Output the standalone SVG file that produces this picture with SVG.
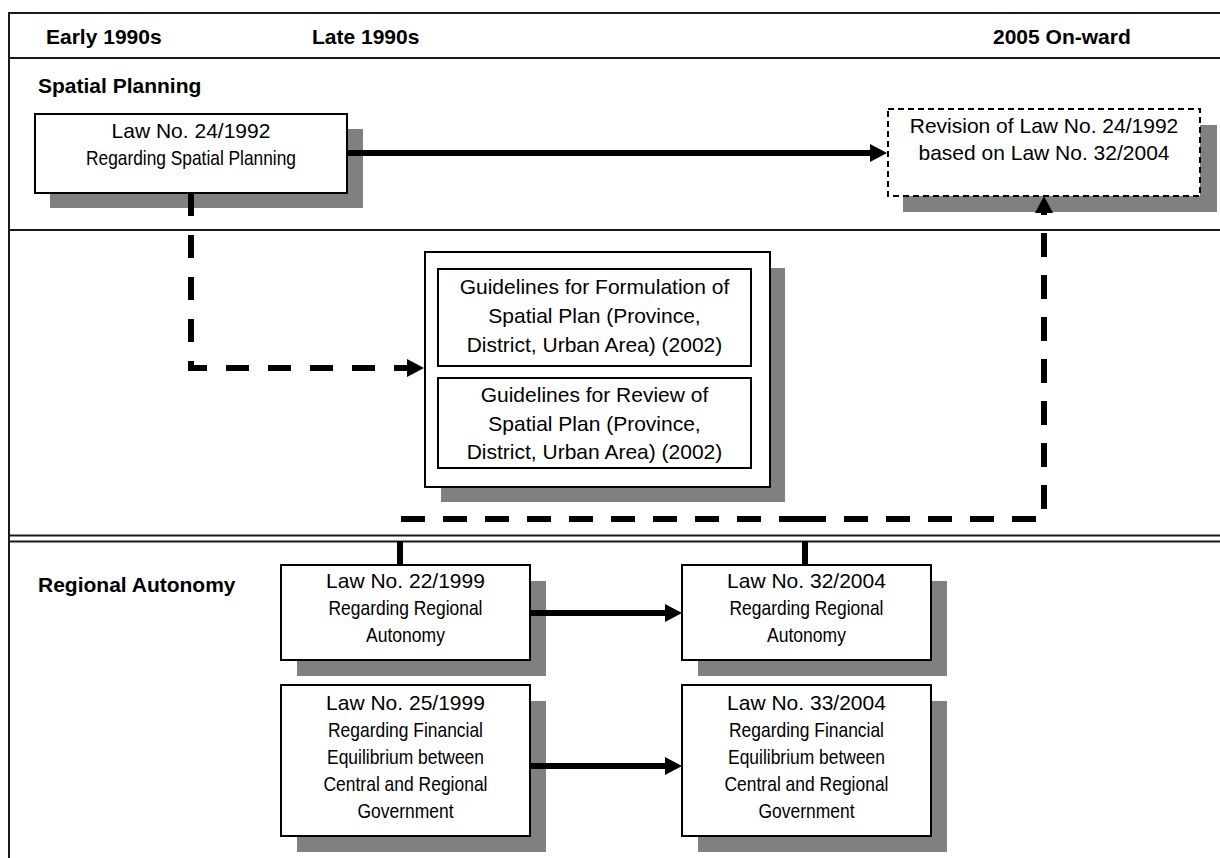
<svg xmlns="http://www.w3.org/2000/svg" width="1220" height="858" viewBox="0 0 1220 858">
  <style>
    .frame { stroke: #1a1a1a; stroke-width: 2; fill: none; }
    .shadow { fill: #808080; }
    .box { fill: #ffffff; stroke: #000000; stroke-width: 2; }
    .box-dashed { fill: #ffffff; stroke: #000000; stroke-width: 2; stroke-dasharray: 6 4; }
    .hdr { font-family: "Liberation Sans", Arial, sans-serif; font-weight: bold; font-size: 21px; fill: #000; }
    .t { font-family: "Liberation Sans", Arial, sans-serif; font-size: 21px; text-anchor: middle; fill: #000; }
    .n { font-family: "Liberation Sans Narrow", "Liberation Sans", Arial, sans-serif; font-size: 21px; text-anchor: middle; fill: #000; }
    .link { stroke: #000000; stroke-width: 6; fill: none; }
    .dash-a { stroke-dasharray: 23 19; }
    .dash-b { stroke-dasharray: 24 18; }
  </style>
  <defs>
    <marker id="arrow" markerUnits="userSpaceOnUse" markerWidth="18" markerHeight="18" refX="0" refY="9" orient="auto" overflow="visible">
      <path d="M0,0 L17,9 L0,18 Z" fill="#000000"/>
    </marker>
  </defs>

  <rect x="0" y="0" width="1220" height="858" fill="#ffffff"/>

  <!-- frame and band dividers -->
  <g id="frame">
    <path class="frame" d="M9 858 V13 H1220"/>
    <path class="frame" d="M9 58 H1220"/>
    <path class="frame" d="M9 230 H1220"/>
    <path class="frame" d="M9 535.5 H1220"/>
    <path class="frame" d="M9 541.5 H1220"/>
  </g>

  <!-- period headings and band titles -->
  <g id="labels">
    <text class="hdr" x="46" y="44">Early 1990s</text>
    <text class="hdr" x="312" y="44">Late 1990s</text>
    <text class="hdr" x="993" y="44">2005 On-ward</text>
    <text class="hdr" x="38" y="93">Spatial Planning</text>
    <text class="hdr" x="38" y="592">Regional Autonomy</text>
  </g>

  <g id="law-24-1992">
    <rect class="shadow" x="50" y="129" width="313" height="79"/>
    <rect class="box" x="35" y="114" width="312" height="79"/>
    <text class="t" x="191" y="138">Law No. 24/1992</text>
    <text class="n" x="191" y="165" textLength="210" lengthAdjust="spacingAndGlyphs">Regarding Spatial Planning</text>
  </g>

  <g id="revision-law-24-1992">
    <rect class="shadow" x="903" y="125" width="314" height="87"/>
    <rect class="box-dashed" x="888" y="109" width="312" height="87"/>
    <text class="t" x="1044" y="133">Revision of Law No. 24/1992</text>
    <text class="t" x="1044" y="160">based on Law No. 32/2004</text>
  </g>

  <g id="guidelines">
    <rect class="shadow" x="441" y="268" width="344" height="234"/>
    <rect class="box" x="425" y="252" width="345" height="235"/>
    <rect class="box" x="438" y="269" width="313" height="97"/>
    <text class="t" x="594.5" y="294">Guidelines for Formulation of</text>
    <text class="t" x="594.5" y="323">Spatial Plan (Province,</text>
    <text class="t" x="594.5" y="352">District, Urban Area) (2002)</text>
    <rect class="box" x="438" y="378" width="313" height="90"/>
    <text class="t" x="594.5" y="402">Guidelines for Review of</text>
    <text class="t" x="594.5" y="431">Spatial Plan (Province,</text>
    <text class="t" x="594.5" y="459">District, Urban Area) (2002)</text>
  </g>

  <g id="law-22-1999">
    <rect class="shadow" x="297" y="581" width="249" height="95"/>
    <rect class="box" x="281" y="565" width="249" height="95"/>
    <text class="t" x="405.5" y="588">Law No. 22/1999</text>
    <text class="n" x="405.5" y="615" textLength="154" lengthAdjust="spacingAndGlyphs">Regarding Regional</text>
    <text class="n" x="405.5" y="642" textLength="79" lengthAdjust="spacingAndGlyphs">Autonomy</text>
  </g>

  <g id="law-32-2004">
    <rect class="shadow" x="698" y="581" width="249" height="95"/>
    <rect class="box" x="682" y="565" width="249" height="95"/>
    <text class="t" x="806.5" y="588">Law No. 32/2004</text>
    <text class="n" x="806.5" y="615" textLength="154" lengthAdjust="spacingAndGlyphs">Regarding Regional</text>
    <text class="n" x="806.5" y="642" textLength="79" lengthAdjust="spacingAndGlyphs">Autonomy</text>
  </g>

  <g id="law-25-1999">
    <rect class="shadow" x="297" y="701" width="249" height="151"/>
    <rect class="box" x="281" y="685" width="249" height="151"/>
    <text class="t" x="405.5" y="710">Law No. 25/1999</text>
    <text class="n" x="405.5" y="737" textLength="155" lengthAdjust="spacingAndGlyphs">Regarding Financial</text>
    <text class="n" x="405.5" y="764" textLength="157" lengthAdjust="spacingAndGlyphs">Equilibrium between</text>
    <text class="n" x="405.5" y="791" textLength="164" lengthAdjust="spacingAndGlyphs">Central and Regional</text>
    <text class="n" x="405.5" y="818" textLength="96" lengthAdjust="spacingAndGlyphs">Government</text>
  </g>

  <g id="law-33-2004">
    <rect class="shadow" x="698" y="701" width="249" height="151"/>
    <rect class="box" x="682" y="685" width="249" height="151"/>
    <text class="t" x="806.5" y="710">Law No. 33/2004</text>
    <text class="n" x="806.5" y="737" textLength="155" lengthAdjust="spacingAndGlyphs">Regarding Financial</text>
    <text class="n" x="806.5" y="764" textLength="157" lengthAdjust="spacingAndGlyphs">Equilibrium between</text>
    <text class="n" x="806.5" y="791" textLength="164" lengthAdjust="spacingAndGlyphs">Central and Regional</text>
    <text class="n" x="806.5" y="818" textLength="96" lengthAdjust="spacingAndGlyphs">Government</text>
  </g>

  <!-- connectors, drawn over the box shadows -->
  <g id="connectors">
    <path class="link" d="M347 153 H870" marker-end="url(#arrow)"/>
    <path class="link dash-a" d="M191 193 V368 H407" marker-end="url(#arrow)"/>
    <path class="link dash-b" d="M401 519 H806"/>
    <path class="link dash-b" style="stroke-dashoffset:38" d="M798 519 H1044 V213" marker-end="url(#arrow)"/>
    <path class="link" d="M400 541 V565"/>
    <path class="link" d="M805 541 V565"/>
    <path class="link" d="M530 613 H665" marker-end="url(#arrow)"/>
    <path class="link" d="M530 766 H665" marker-end="url(#arrow)"/>
  </g>
</svg>
